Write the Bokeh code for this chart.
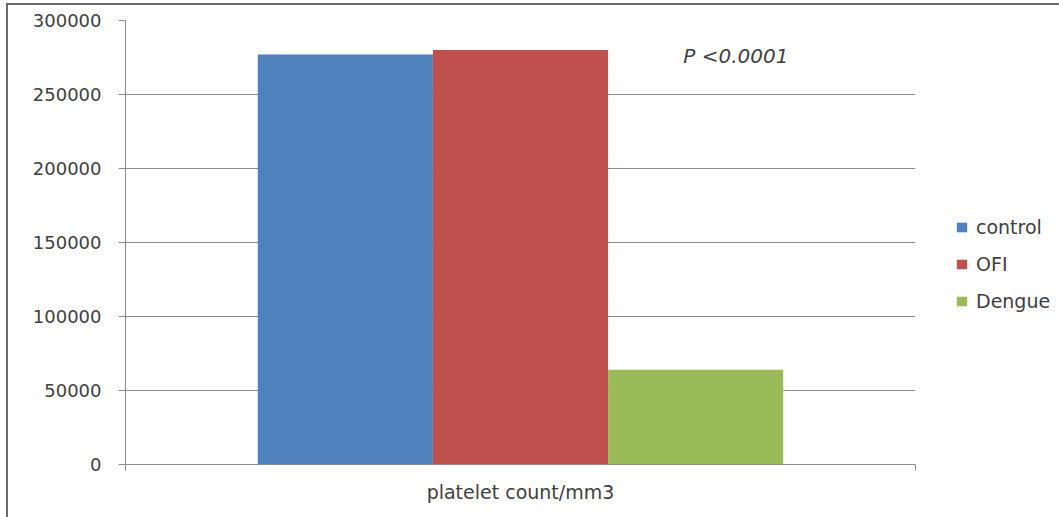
from bokeh.plotting import figure
from bokeh.models import (ColumnDataSource, Legend, LegendItem, Label, Range1d,
                          FixedTicker, SingleIntervalTicker, NumeralTickFormatter)
from bokeh.embed import file_html
from bokeh.resources import INLINE

# platelet counts per group
category = "platelet count/mm3"
series = ["control", "OFI", "Dengue"]
values = [277000, 280000, 64000]
colors = ["#4F81BD", "#C0504D", "#9BBB59"]
p_text = "P <0.0001"

FONT = "DejaVu Sans"
TEXT_COLOR = "#404040"
GRID_COLOR = "#8c8c8c"

# the single category spans 0..1 on x; its bars sit side by side around its centre
p = figure(
    frame_width=790, frame_height=444,
    x_range=Range1d(0, 1), y_range=(0, 300000),
    output_backend="svg", toolbar_location=None,
    min_border_left=117, min_border_right=0, min_border_top=15, min_border_bottom=53,
)
p.styles = {"border-left": "2px solid #6a6a6a", "border-top": "2px solid #6a6a6a",
            "margin-left": "6px", "margin-top": "3px"}
p.outline_line_color = None
p.background_fill_color = "white"

bar_w = 0.2217
centre = 0.5
items = []
for i, (name, val, col) in enumerate(zip(series, values, colors)):
    src = ColumnDataSource(dict(x=[centre + (i - 1) * bar_w], val=[val]))
    r = p.vbar(x="x", top="val", width=bar_w, source=src, fill_color=col, line_color=None)
    items.append(LegendItem(label=name, renderers=[r]))

# value axis
p.yaxis.ticker = SingleIntervalTicker(interval=50000)
p.yaxis.formatter = NumeralTickFormatter(format="0")
p.yaxis.major_label_text_font = FONT
p.yaxis.major_label_text_font_size = "18px"
p.yaxis.major_label_text_color = TEXT_COLOR
p.yaxis.axis_line_color = GRID_COLOR
p.yaxis.major_tick_line_color = GRID_COLOR
p.yaxis.major_tick_out = 7
p.yaxis.major_tick_in = 0
p.yaxis.minor_tick_line_color = None
p.yaxis.major_label_standoff = 17

# category axis: boundary ticks at both ends, category name centred below
p.xaxis.ticker = FixedTicker(ticks=[0, 1])
p.xaxis.major_label_overrides = {0: "", 1: ""}
p.xaxis.major_label_text_font_size = "1px"
p.xaxis.major_label_standoff = 0
p.xaxis.axis_line_color = GRID_COLOR
p.xaxis.major_tick_line_color = GRID_COLOR
p.xaxis.major_tick_out = 6
p.xaxis.major_tick_in = 0
p.xaxis.minor_tick_line_color = None
p.xaxis.axis_label = category
p.xaxis.axis_label_text_font = FONT
p.xaxis.axis_label_text_font_size = "19px"
p.xaxis.axis_label_text_font_style = "normal"
p.xaxis.axis_label_text_color = TEXT_COLOR
p.xaxis.axis_label_standoff = 10

p.xgrid.grid_line_color = None
p.ygrid.grid_line_color = GRID_COLOR
p.ygrid.grid_line_width = 1

# significance annotation
p.add_layout(Label(x=0.706, y=276000, text=p_text, text_font=FONT, text_font_size="20px",
                   text_font_style="italic", text_color=TEXT_COLOR, text_baseline="middle"))

legend = Legend(items=items, location=(40, 152), orientation="vertical",
                label_text_font=FONT, label_text_font_size="19px", label_text_color=TEXT_COLOR,
                glyph_width=13, glyph_height=12, label_height=20, spacing=15,
                padding=0, margin=0, border_line_color=None, background_fill_alpha=0,
                label_standoff=8)
p.add_layout(legend, "right")

open("out.html", "w").write(file_html(p, INLINE))
